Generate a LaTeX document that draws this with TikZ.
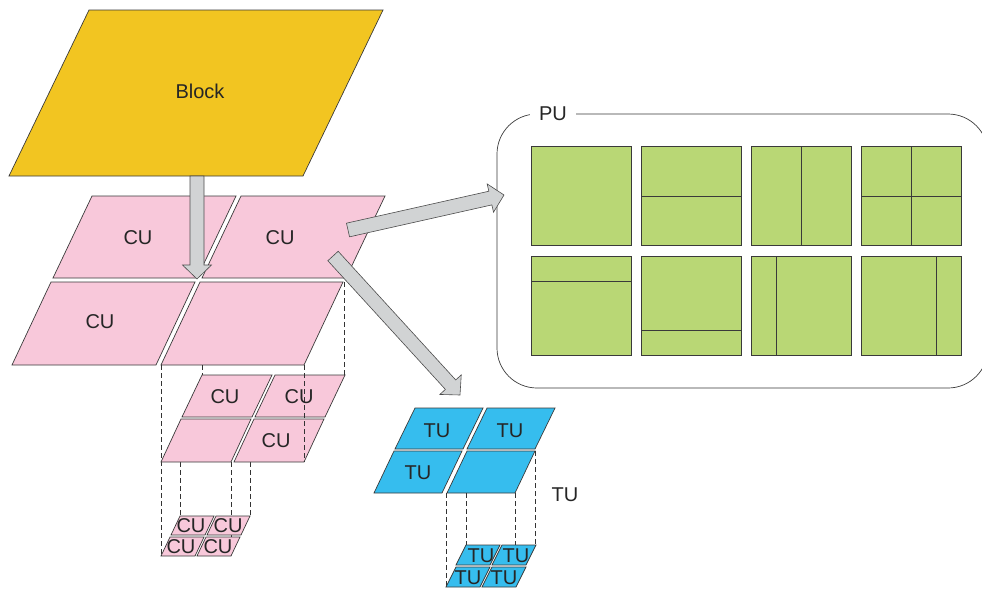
\documentclass[tikz,border=0pt]{standalone}
\usepackage{fontspec}
\setmainfont{Liberation Sans}
\usepackage{tikz}
\usetikzlibrary{calc}

\definecolor{blockyellow}{HTML}{F2C521}
\definecolor{cupink}{HTML}{F8C8DA}
\definecolor{tublue}{HTML}{36BDEE}
\definecolor{pugreen}{HTML}{B9D775}
\definecolor{arrowgray}{HTML}{D1D3D4}
\definecolor{edgegray}{HTML}{3A3A3A}

% parallelogram tile: style, x, y (bottom left), width, height, skew
\newcommand\tile[6]{%
  \filldraw[#1] (#2,#3) -- ++(#4,0) -- ++(#6,-#5) -- ++(-#4,0) -- cycle;}

% block arrow from #1 to #2
\newcommand\bigarrow[2]{%
  \coordinate (hb) at ($(#2)!14pt!(#1)$);
  \filldraw[bigarr] ($(#1)!7pt!90:(#2)$) -- ($(hb)!7pt!90:(#2)$)
    -- ($(hb)!14.5pt!90:(#2)$) -- (#2) -- ($(hb)!14.5pt!-90:(#2)$)
    -- ($(hb)!7pt!-90:(#2)$) -- ($(#1)!7pt!-90:(#2)$) -- cycle;}

\begin{document}
\begin{tikzpicture}[x=1pt,y=-1pt,font=\fontsize{20}{23}\selectfont,
  txt/.style={text=black!85,inner sep=0pt},
  blockpar/.style={fill=blockyellow,draw=edgegray,line width=0.7pt},
  cu/.style={fill=cupink,draw=edgegray,line width=0.7pt},
  tu/.style={fill=tublue,draw=edgegray,line width=0.7pt},
  pu/.style={fill=pugreen,draw=edgegray,line width=0.8pt},
  bigarr/.style={fill=arrowgray,draw=black!70,line width=0.6pt},
  proj/.style={draw=black!80,line width=0.6pt,dash pattern=on 5pt off 3pt}]
  \useasboundingbox (0,0) rectangle (982,590);

  % block
  \tile{blockpar}{9}{176}{294}{166}{80}
  \node[txt] (block) at (200,91) {Block};

  % CU, first split
  \tile{cu}{12}{365}{144}{83}{39}
  \tile{cu}{161}{365}{143}{83}{39}
  \tile{cu}{53}{278}{144}{82}{39}
  \tile{cu}{202}{278}{144}{82}{39}
  \node[txt] (cu1a) at (138,238) {CU};
  \node[txt] (cu1b) at (280,238) {CU};
  \node[txt] (cu1c) at (100,322) {CU};

  % CU, second split
  \draw[proj] (161,365) -- (161,556);
  \draw[proj] (180,462) -- (180,516);
  \draw[proj] (231,462) -- (231,556);
  \draw[proj] (250,462) -- (250,516);
  \draw[proj] (202,365) -- (202,375);
  \draw[proj] (344,282) -- (344,375);
  \tile{cu}{161}{462}{70}{43}{20}
  \tile{cu}{234}{462}{70}{43}{20}
  \tile{cu}{182}{417}{70}{42}{20}
  \tile{cu}{255}{417}{70}{42}{20}
  \draw[proj] (304,365) -- (304,462);
  \node[txt] (cu2a) at (225,397) {CU};
  \node[txt] (cu2b) at (299,397) {CU};
  \node[txt] (cu2c) at (276,441) {CU};

  % CU, third split
  \tile{cu}{161}{556}{34}{19}{9}
  \tile{cu}{197}{556}{34}{19}{9}
  \tile{cu}{171}{535}{34}{19}{9}
  \tile{cu}{207}{535}{34}{19}{9}
  \node[txt] (cu3a) at (191,526) {CU};
  \node[txt] (cu3b) at (228,526) {CU};
  \node[txt] (cu3c) at (181,547) {CU};
  \node[txt] (cu3d) at (218,547) {CU};

  % TU
  \tile{tu}{374}{493}{68}{42}{20}
  \tile{tu}{447}{493}{68}{42}{20}
  \tile{tu}{395}{449}{68}{41}{20}
  \tile{tu}{467}{449}{68}{41}{20}
  \node[txt] (tu1a) at (437,431) {TU};
  \node[txt] (tu1b) at (510,431) {TU};
  \node[txt] (tu1c) at (418,473) {TU};
  \node[txt] (tulabel) at (565,495) {TU};

  \draw[proj] (446,493) -- (446,587);
  \draw[proj] (466,493) -- (466,545);
  \draw[proj] (515,493) -- (515,545);
  \draw[proj] (535,451) -- (535,545);
  \tile{tu}{446}{587}{34}{20}{10}
  \tile{tu}{482}{587}{34}{20}{10}
  \tile{tu}{456}{565}{34}{20}{10}
  \tile{tu}{492}{565}{34}{20}{10}
  \node[txt] (tu2a) at (481,556) {TU};
  \node[txt] (tu2b) at (516,556) {TU};
  \node[txt] (tu2c) at (468,578) {TU};
  \node[txt] (tu2d) at (504,578) {TU};

  % PU
  \draw[edgegray,line width=0.7pt,rounded corners=40pt] (497,114) rectangle (988,388);
  \node[txt,fill=white,inner xsep=9pt,inner ysep=2pt] (pulabel) at (553,114) {PU};
  \foreach \r in {0,1}
    \foreach \c in {0,...,3}
      \filldraw[pu] (531+110*\c,146+110*\r) rectangle ++(100,99);
  \draw[pu] (641,196) -- (741,196);
  \draw[pu] (801,146) -- (801,245);
  \draw[pu] (861,196) -- (961,196) (911,146) -- (911,245);
  \draw[pu] (531,281) -- (631,281);
  \draw[pu] (641,330) -- (741,330);
  \draw[pu] (776,256) -- (776,355);
  \draw[pu] (936,256) -- (936,355);

  % arrows
  \coordinate (b-out) at (197,176);
  \coordinate (cu-in) at (197,279);
  \coordinate (pu-tail) at (348,230);
  \coordinate (pu-in) at (504,195);
  \coordinate (tu-tail) at (333,256);
  \coordinate (tu-in) at (460,395);
  \bigarrow{b-out}{cu-in}
  \bigarrow{pu-tail}{pu-in}
  \bigarrow{tu-tail}{tu-in}
\end{tikzpicture}
\end{document}
